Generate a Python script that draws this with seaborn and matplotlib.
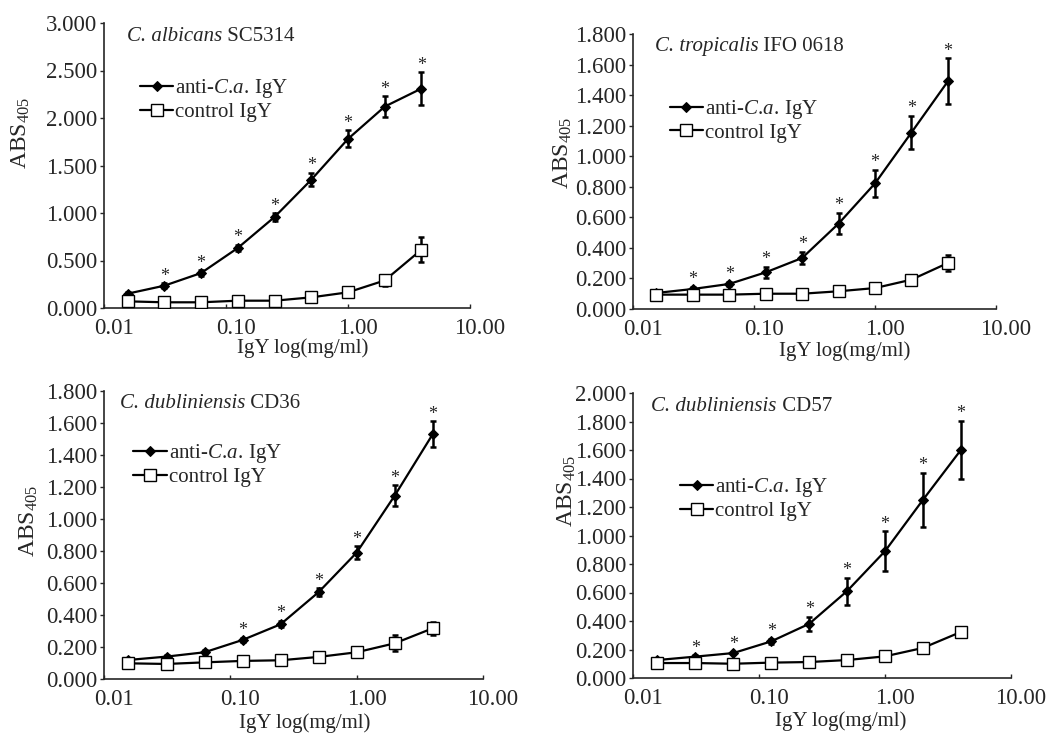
import numpy as np
import pandas as pd
import seaborn as sns
import matplotlib.pyplot as plt
import matplotlib.transforms as mtransforms
from matplotlib.ticker import FixedLocator, FixedFormatter, MultipleLocator, FormatStrFormatter, NullLocator

# ---- data ----
conc = [0.015625, 0.03125, 0.0625, 0.125, 0.25, 0.5, 1.0, 2.0, 4.0]

strains = ["C. albicans", "C. tropicalis", "C. dubliniensis", "C. dubliniensis"]
strain_ids = ["SC5314", "IFO 0618", "CD36", "CD57"]

anti_albicans = [0.151, 0.235, 0.368, 0.632, 0.958, 1.350, 1.780, 2.120, 2.310]
anti_albicans_err = [0.020, 0.025, 0.030, 0.030, 0.040, 0.070, 0.090, 0.110, 0.170]
ctrl_albicans = [0.070, 0.060, 0.060, 0.077, 0.077, 0.112, 0.165, 0.290, 0.614]
ctrl_albicans_err = [0.015, 0.010, 0.010, 0.010, 0.010, 0.015, 0.020, 0.060, 0.130]

anti_tropicalis = [0.105, 0.131, 0.164, 0.240, 0.334, 0.559, 0.822, 1.155, 1.490]
anti_tropicalis_err = [0.010, 0.015, 0.015, 0.035, 0.040, 0.070, 0.090, 0.110, 0.150]
ctrl_tropicalis = [0.094, 0.094, 0.094, 0.100, 0.100, 0.116, 0.137, 0.192, 0.301]
ctrl_tropicalis_err = [0.010, 0.010, 0.010, 0.010, 0.010, 0.010, 0.010, 0.010, 0.050]

anti_cd36 = [0.119, 0.140, 0.167, 0.244, 0.342, 0.543, 0.790, 1.146, 1.530]
anti_cd36_err = [0.010, 0.010, 0.015, 0.015, 0.020, 0.025, 0.040, 0.065, 0.080]
ctrl_cd36 = [0.098, 0.094, 0.104, 0.113, 0.117, 0.138, 0.167, 0.223, 0.317]
ctrl_cd36_err = [0.010, 0.010, 0.010, 0.010, 0.010, 0.010, 0.020, 0.050, 0.040]

anti_cd57 = [0.126, 0.150, 0.175, 0.257, 0.380, 0.610, 0.890, 1.250, 1.600]
anti_cd57_err = [0.010, 0.010, 0.010, 0.020, 0.050, 0.095, 0.140, 0.190, 0.205]
ctrl_cd57 = [0.105, 0.105, 0.100, 0.108, 0.112, 0.126, 0.152, 0.211, 0.323]
ctrl_cd57_err = [0.005, 0.005, 0.005, 0.005, 0.005, 0.005, 0.008, 0.008, 0.010]

# significance marks (1 = asterisk above anti-C.a. point)
sig_albicans = [0, 1, 1, 1, 1, 1, 1, 1, 1]
sig_tropicalis = [0, 1, 1, 1, 1, 1, 1, 1, 1]
sig_cd36 = [0, 0, 0, 1, 1, 1, 1, 1, 1]
sig_cd57 = [0, 1, 1, 1, 1, 1, 1, 1, 1]

ymax = [3.0, 1.8, 1.8, 2.0]
ystep = [0.5, 0.2, 0.2, 0.2]

panels = [
    (anti_albicans, anti_albicans_err, ctrl_albicans, ctrl_albicans_err, sig_albicans),
    (anti_tropicalis, anti_tropicalis_err, ctrl_tropicalis, ctrl_tropicalis_err, sig_tropicalis),
    (anti_cd36, anti_cd36_err, ctrl_cd36, ctrl_cd36_err, sig_cd36),
    (anti_cd57, anti_cd57_err, ctrl_cd57, ctrl_cd57_err, sig_cd57),
]

# ---- layout (pixels in a 1046x736 canvas) ----
W, H = 1046, 736
boxes = [(104, 23, 470, 308), (633, 34, 996, 309), (104, 391, 483, 679), (633, 393, 1011, 678)]
legend_anchor = [(0.098, 0.810), (0.101, 0.767), (0.077, 0.822), (0.124, 0.708)]
title_pos = [(0.063, 0.951), (0.060, 0.954), (0.042, 0.958), (0.048, 0.954)]
ylabel_pos = [(-0.197, 0.614), (-0.163, 0.567), (-0.169, 0.549), (-0.146, 0.656)]
xlabel_pos = [(0.544, -0.105), (0.584, -0.117), (0.530, -0.118), (0.550, -0.116)]

sns.set_style("ticks")
plt.rcParams['font.family'] = ['Liberation Serif', 'DejaVu Serif']
plt.rcParams['mathtext.fontset'] = 'custom'
plt.rcParams['mathtext.rm'] = 'Liberation Serif'
plt.rcParams['mathtext.it'] = 'Liberation Serif:italic'
plt.rcParams['mathtext.bf'] = 'Liberation Serif:bold'

fig = plt.figure(figsize=(W / 100, H / 100), dpi=100)
FS = 15
TICK_FS = 16.5

for i, (anti, anti_err, ctrl, ctrl_err, sig) in enumerate(panels):
    l, t, r, b = boxes[i]
    ax = fig.add_axes([l / W, 1 - b / H, (r - l) / W, (b - t) / H])

    df = pd.DataFrame({
        'conc': conc * 2,
        'abs': anti + ctrl,
        'group': ['anti'] * len(conc) + ['control'] * len(conc),
    })

    ax.errorbar(conc, anti, yerr=anti_err, fmt='none', ecolor='black',
                elinewidth=1.8, capsize=2.5, capthick=1.8, zorder=2)
    ax.errorbar(conc, ctrl, yerr=ctrl_err, fmt='none', ecolor='black',
                elinewidth=1.8, capsize=2.5, capthick=1.8, zorder=2)

    sns.lineplot(data=df[df['group'] == 'anti'], x='conc', y='abs', ax=ax,
                 color='black', linewidth=1.6, marker='D', markersize=5.5,
                 markerfacecolor='black', markeredgecolor='black',
                 label=r'anti-$\mathit{C.\!a.\!}$ IgY', zorder=3)
    sns.lineplot(data=df[df['group'] == 'control'], x='conc', y='abs', ax=ax,
                 color='black', linewidth=1.6, marker='s', markersize=8,
                 markerfacecolor='white', markeredgecolor='black',
                 markeredgewidth=1.0, label='control IgY', zorder=3)

    for xv, yv, ev, s in zip(conc, anti, anti_err, sig):
        if s:
            ax.annotate('*', (xv, yv + ev), xytext=(0, -1), textcoords='offset points',
                        ha='center', va='bottom', fontsize=13)

    ax.set_xscale('log')
    ax.set_xlim(0.01, 10)
    ax.set_ylim(0, ymax[i])
    ax.xaxis.set_major_locator(FixedLocator([0.01, 0.1, 1, 10]))
    ax.xaxis.set_major_formatter(FixedFormatter(['0.01', '0.10', '1.00', '10.00']))
    ax.xaxis.set_minor_locator(NullLocator())
    ax.yaxis.set_major_locator(MultipleLocator(ystep[i]))
    ax.yaxis.set_major_formatter(FormatStrFormatter('%.3f'))
    ax.tick_params(axis='both', labelsize=TICK_FS, length=3, width=1, pad=2)
    ax.tick_params(axis='x', direction='in', pad=7)

    # x tick labels sit slightly right of their ticks in the original
    shift = mtransforms.ScaledTranslation(10 / 100, 0, fig.dpi_scale_trans)
    for lab in ax.get_xticklabels():
        lab.set_transform(lab.get_transform() + shift)

    for side in ['top', 'right']:
        ax.spines[side].set_visible(False)
    for side in ['left', 'bottom']:
        ax.spines[side].set_linewidth(1.2)

    ax.set_xlabel('IgY log(mg/ml)', fontsize=FS)
    ax.set_ylabel(r'ABS$_{405}$', fontsize=17)
    ax.xaxis.set_label_coords(*xlabel_pos[i])
    ax.yaxis.set_label_coords(*ylabel_pos[i])

    t1 = ax.text(title_pos[i][0], title_pos[i][1], strains[i], style='italic',
                 transform=ax.transAxes, fontsize=FS, ha='left', va='center')
    ax.annotate(' ' + strain_ids[i], xy=(1, 0.5), xycoords=t1,
                fontsize=FS, ha='left', va='center')

    ax.legend(loc='upper left', bbox_to_anchor=legend_anchor[i], frameon=False,
              fontsize=FS, handlelength=1.6, handletextpad=0.1, labelspacing=0.1,
              borderpad=0, borderaxespad=0)

fig.savefig('out.png', dpi=100)
